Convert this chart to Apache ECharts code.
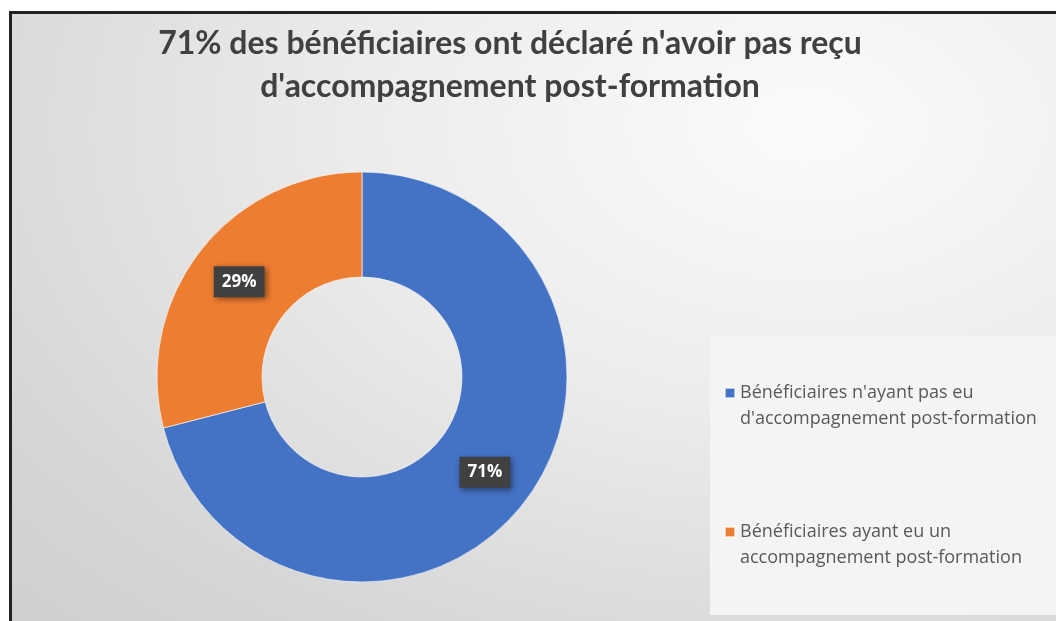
<!DOCTYPE html>
<html>
<head>
<meta charset="utf-8">
<script src="https://cdn.jsdelivr.net/npm/echarts@6/dist/echarts.min.js"></script>
<style>
    html, body { margin: 0; padding: 0; background: #fff; overflow: hidden; }
    #frame {
        position: absolute; left: 9px; top: 11px; width: 1060px; height: 620px;
        border-left: 3px solid #222; border-top: 3px solid #222;
        background: radial-gradient(ellipse at 75% 18%, #fbfbfb 0%, #ececec 40%, #d6d6d6 80%, #cfcfcf 100%);
    }
    #main { position: absolute; left: 0; top: 0; width: 1056px; height: 621px; }
</style>
</head>
<body>
<div id="frame"></div>
<div id="main"></div>
<script>
//数据
var categories = [
    "Bénéficiaires n'ayant pas eu\nd'accompagnement post-formation",
    "Bénéficiaires ayant eu un\naccompagnement post-formation"
];
var values = [71, 29];
var colors = ['#4472C4', '#ED7D31'];

var titleLines = [
    "71% des bénéficiaires ont déclaré n'avoir pas reçu",
    "d'accompagnement post-formation"
];

var myChart = echarts.init(document.getElementById('main'));

var pieData = categories.map(function (name, i) {
    return { name: name, value: values[i], itemStyle: { color: colors[i] } };
});

var option = {
    backgroundColor: 'transparent',
    animation: false,
    title: {
        text: titleLines.join('\n'),
        left: 505,
        top: 17,
        textAlign: 'center',
        textStyle: {
            fontFamily: 'Lato',
            fontWeight: 'bold',
            fontSize: 32,
            lineHeight: 43,
            color: '#404040'
        }
    },
    //图例背景框
    graphic: [{
        type: 'rect',
        left: 710,
        top: 336,
        shape: { width: 360, height: 279 },
        style: { fill: '#f4f4f4' },
        z: -1
    }],
    legend: {
        orient: 'vertical',
        left: 724,
        top: 354,
        padding: 0,
        itemGap: 61,
        itemWidth: 10,
        itemHeight: 10,
        icon: 'rect',
        selectedMode: false,
        formatter: function (name) {
            return '\n' + name;
        },
        textStyle: {
            fontFamily: 'Open Sans',
            fontSize: 18,
            lineHeight: 26,
            color: '#595959'
        }
    },
    series: [{
        type: 'pie',
        center: [362, 377],
        radius: [100, 205],
        startAngle: 90,
        clockwise: true,
        avoidLabelOverlap: false,
        itemStyle: {
            borderColor: 'rgba(255,255,255,0.6)',
            borderWidth: 1
        },
        label: {
            show: true,
            position: 'inside',
            formatter: '{d}%',
            fontFamily: 'Open Sans',
            fontWeight: 'bold',
            fontSize: 17,
            color: '#fff',
            backgroundColor: '#404040',
            padding: [7, 8],
            shadowBlur: 6,
            shadowColor: 'rgba(0,0,0,0.45)',
            shadowOffsetX: 2,
            shadowOffsetY: 2
        },
        labelLine: { show: false },
        emphasis: { disabled: true },
        data: pieData
    }]
};

myChart.setOption(option);
</script>
</body>
</html>
